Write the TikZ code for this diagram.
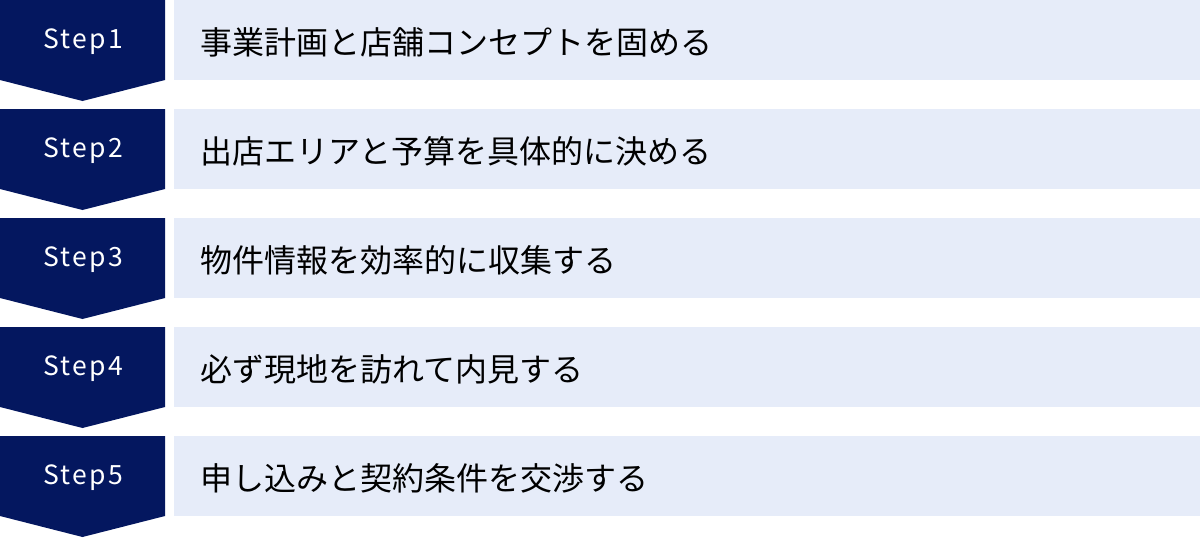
\documentclass[tikz,border=0pt]{standalone}
\usepackage{fontspec}
\setmainfont{Noto Sans CJK JP}
\newfontfamily\stepfont[LetterSpace=9]{Noto Sans CJK JP}
\definecolor{navy}{HTML}{04175F}
\definecolor{lightbox}{HTML}{E6ECF9}
\tikzset{
  chev/.style={fill=navy, draw=none},
  steplabel/.style={text=white, font=\stepfont\fontsize{26.5}{26.5}\selectfont, anchor=center, inner sep=0pt},
  itembox/.style={fill=lightbox, draw=none, anchor=north west, minimum width=1026pt, minimum height=80pt, inner sep=0pt},
  itemtext/.style={text=black, font=\fontsize{32}{32}\selectfont, anchor=west, inner sep=0pt}
}
\begin{document}
\begin{tikzpicture}[x=1pt,y=-1pt]
\useasboundingbox (0,0) rectangle (1200,538);
\foreach \i/\t in {1/事業計画と店舗コンセプトを固める,2/出店エリアと予算を具体的に決める,3/物件情報を効率的に収集する,4/必ず現地を訪れて内見する,5/申し込みと契約条件を交渉する}{
  \pgfmathsetmacro{\top}{109*(\i-1)}
  \fill[chev] (0,\top) -- (165,\top) -- (165,\top+80) -- (82.5,\top+101) -- (0,\top+80) -- cycle;
  \node[steplabel] (s\i) at (83.5,\top+42) {Step\i};
  \node[itembox] (b\i) at (174,\top) {};
  \node[itemtext] (t\i) at (200,\top+42) {\t};
}
\end{tikzpicture}
\end{document}
